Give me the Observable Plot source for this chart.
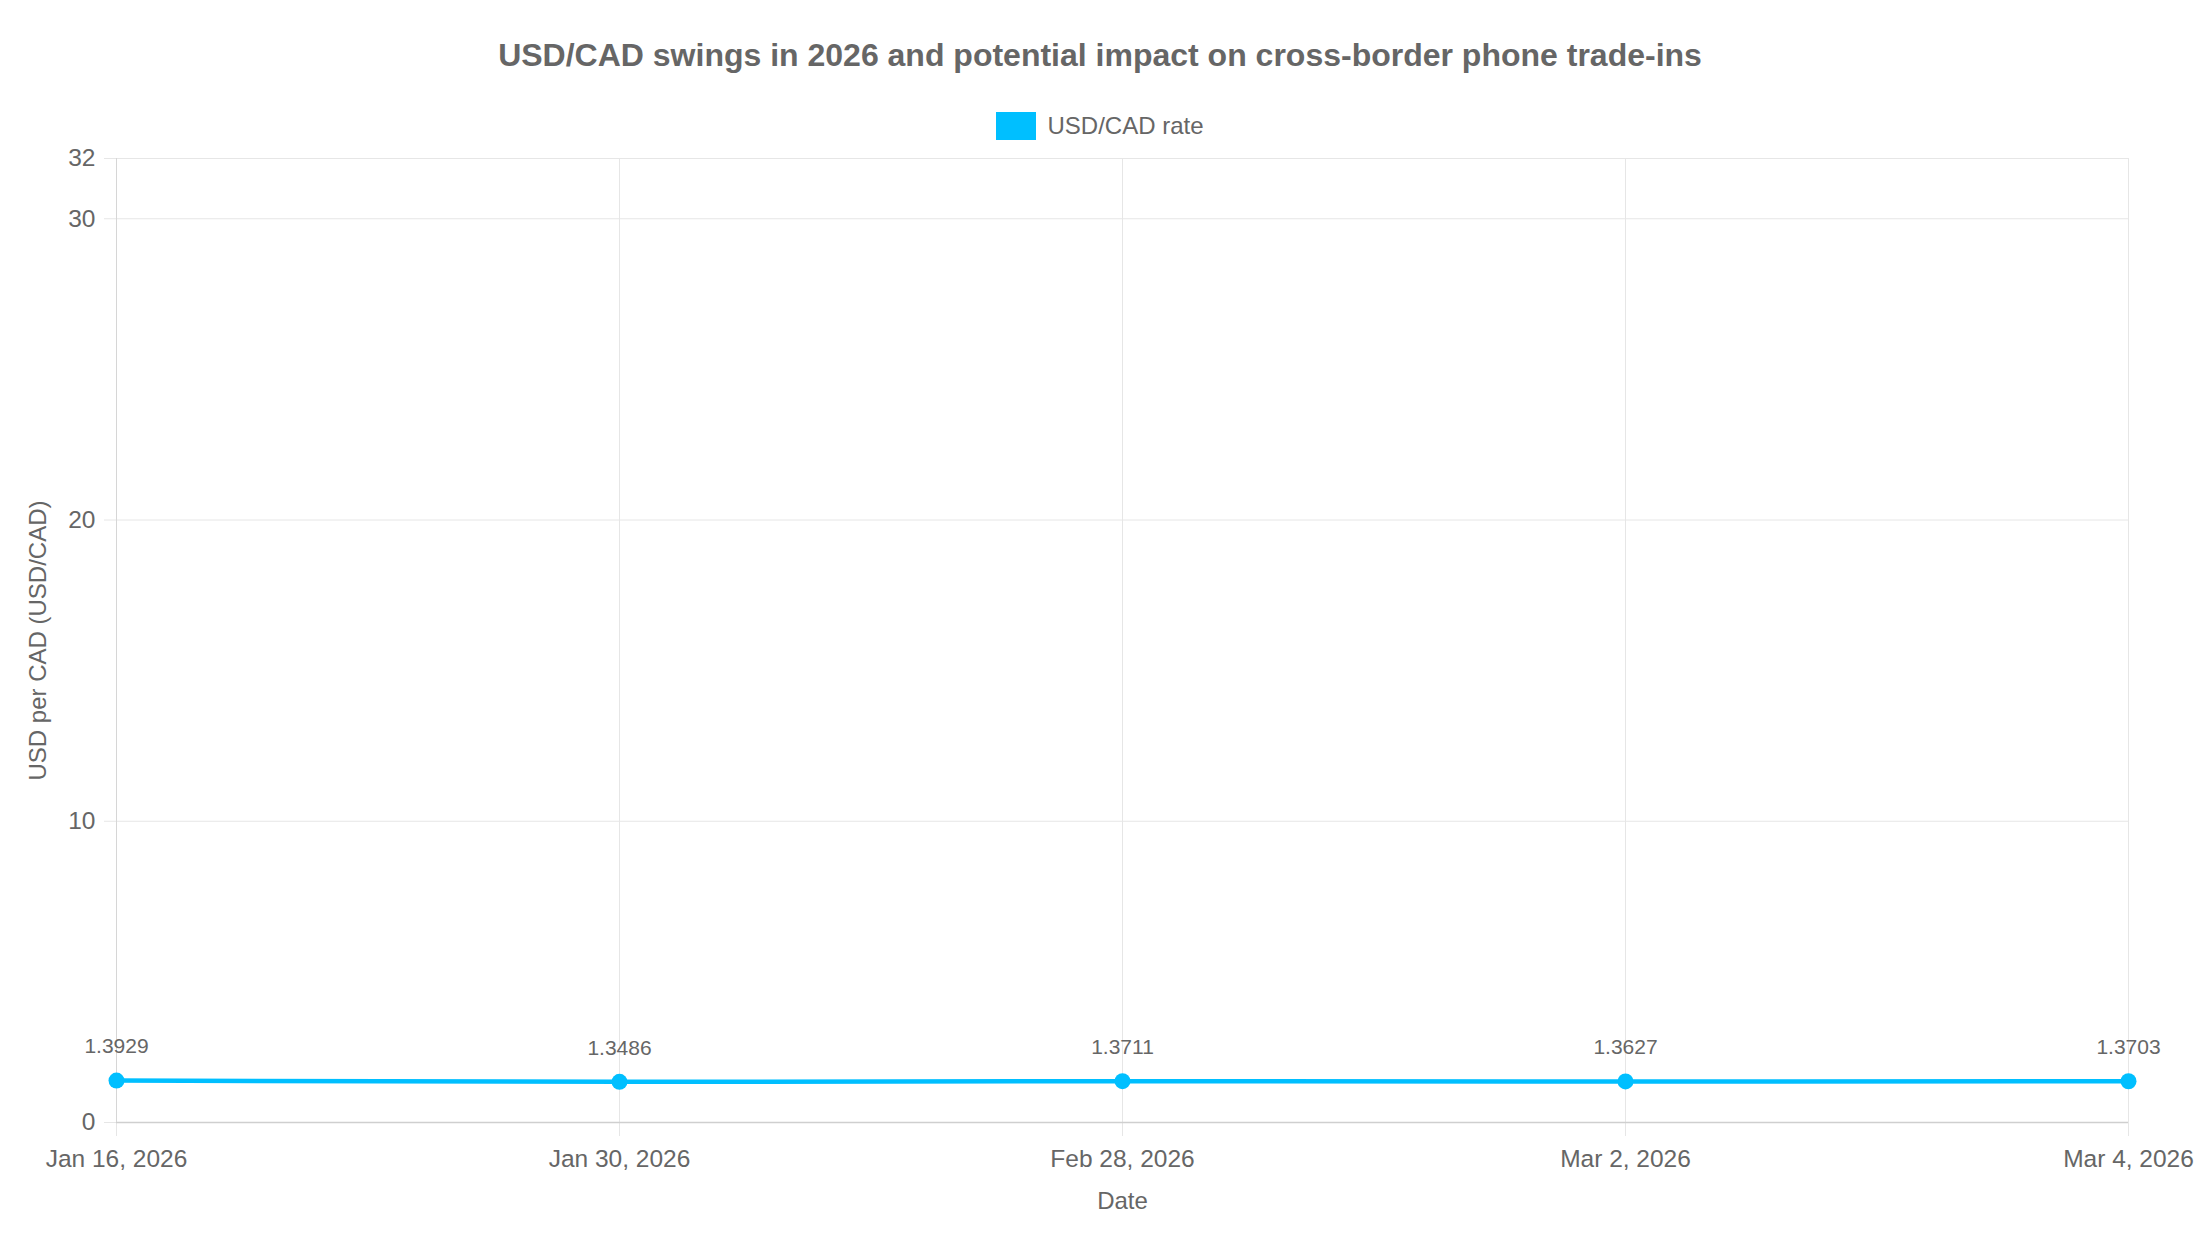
<!DOCTYPE html>
<html>
<head>
<meta charset="utf-8">
<script src="https://cdn.jsdelivr.net/npm/d3@7"></script>
<script src="https://cdn.jsdelivr.net/npm/@observablehq/plot@0.6"></script>
<style>
  html, body { margin: 0; padding: 0; background: #fff; }
  body { width: 2200px; height: 1240px; overflow: hidden; font-family: "Liberation Sans", Arial, Helvetica, sans-serif; color: #666; }
  #title { height: 110px; display: flex; align-items: center; justify-content: center; font-size: 32px; font-weight: bold; color: #666; }
  #legend { height: 32px; display: flex; align-items: center; justify-content: center; font-size: 24px; color: #666; }
  #legend .sw { width: 40px; height: 28px; margin-right: 11px; }
  #chart svg { display: block; }
</style>
</head>
<body>
<div id="title">USD/CAD swings in 2026 and potential impact on cross-border phone trade-ins</div>
<div id="legend"><span class="sw" id="sw"></span><span id="legendText"></span></div>
<div id="chart"></div>
<script>
const dates = ["Jan 16, 2026", "Jan 30, 2026", "Feb 28, 2026", "Mar 2, 2026", "Mar 4, 2026"];
const rates = [1.3929, 1.3486, 1.3711, 1.3627, 1.3703];
const yTicks = [0, 10, 20, 30, 32];
const seriesName = "USD/CAD rate";
const xTitle = "Date";
const yTitle = "USD per CAD (USD/CAD)";
const lineColor = "#00BFFF";

document.getElementById("sw").style.background = lineColor;
document.getElementById("legendText").textContent = seriesName;

const data = dates.map((d, i) => ({date: d, rate: rates[i]}));
const font = '"Liberation Sans", Arial, Helvetica, sans-serif';

const chart = Plot.plot({
  width: 2200,
  height: 1098,
  marginTop: 16,
  marginBottom: 118,
  marginLeft: 116,
  marginRight: 72,
  style: {fontFamily: font, fontSize: "24px", color: "#666", background: "#fff"},
  x: {type: "point", domain: dates, padding: 0},
  y: {domain: [0, 32]},
  marks: [
    Plot.gridX({stroke: "#e6e6e6", strokeOpacity: 1}),
    Plot.gridY(yTicks, {stroke: "#e6e6e6", strokeOpacity: 1}),
    Plot.axisY(yTicks, {tickSize: 12, tickPadding: 9, stroke: "#e6e6e6", fill: "#666", label: null, fontSize: 24.5}),
    Plot.axisX({tickSize: 14, tickPadding: 13, stroke: "#e6e6e6", fill: "#666", label: null, fontSize: 24.5}),
    Plot.ruleY([0], {stroke: "#cfcfcf", strokeWidth: 1.5}),
    Plot.ruleX([dates[0]], {stroke: "#d6d6d6"}),
    Plot.line(data, {x: "date", y: "rate", stroke: lineColor, strokeWidth: 4.5}),
    Plot.dot(data, {x: "date", y: "rate", r: 8, fill: lineColor, stroke: null}),
    Plot.text(data, {x: "date", y: "rate", text: d => d.rate.toFixed(4), dy: -34, fontSize: 21, fill: "#666"}),
    Plot.text([xTitle], {frameAnchor: "bottom", dy: 86, fontSize: 24, fill: "#666"}),
    Plot.text([yTitle], {frameAnchor: "left", textAnchor: "middle", dx: -78, rotate: -90, fontSize: 24, fill: "#666"})
  ]
});
document.getElementById("chart").appendChild(chart);
</script>
</body>
</html>
